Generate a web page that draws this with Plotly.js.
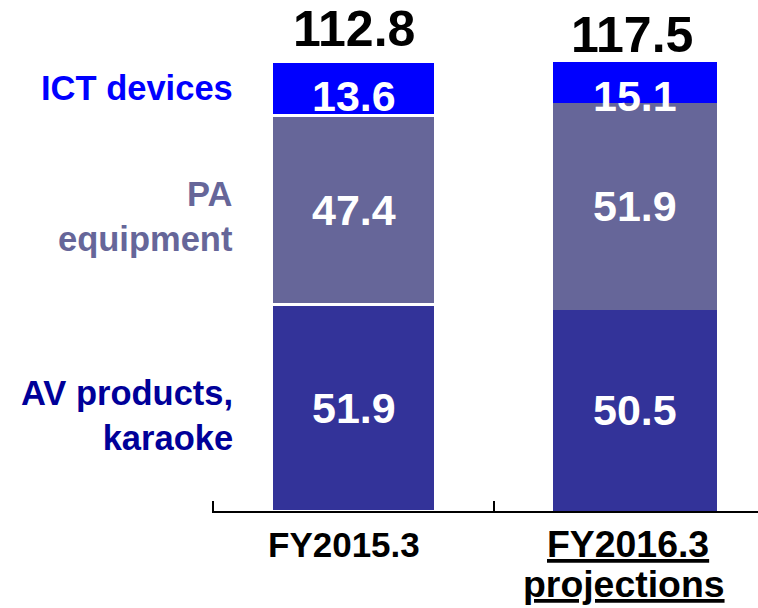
<!DOCTYPE html>
<html>
<head>
<meta charset="utf-8">
<script src="https://cdn.plot.ly/plotly-3.0.1.min.js"></script>
<style>html,body{margin:0;padding:0;background:#fff;}#chart{width:758px;height:608px;}</style>
</head>
<body>
<div id="chart"></div>
<script>
// ---- data ----
const categories = ['FY2015.3', 'FY2016.3<br>projections'];
const seriesNames = ['AV products,<br>karaoke', 'PA<br>equipment', 'ICT devices'];
const avValues = [51.9, 50.5];
const paValues = [47.4, 51.9];
const ictValues = [13.6, 15.1];
const totals = [112.8, 117.5];

// ---- styles ----
const FONT = 'Liberation Sans, Arial, sans-serif';
const colors = ['#333399', '#666699', '#0000FF'];
const labelColors = ['#000099', '#666699', '#0000FF'];
const xPos = [0, 1];
const lineColors = ['#ffffff', 'rgba(0,0,0,0)'];
const lineWidths = [3, 0];

const seriesValues = [avValues, paValues, ictValues];
const traces = seriesValues.map((vals, i) => ({
  type: 'bar',
  x: xPos,
  y: vals,
  name: seriesNames[i],
  width: 0.585,
  marker: {color: colors[i], line: {color: lineColors, width: lineWidths}},
  hoverinfo: 'skip',
  textposition: 'none'
}));

const annotations = [];
const segFont = {family: FONT, size: 43, color: '#fff', weight: 'bold'};
// segment value labels
xPos.forEach((x, j) => {
  annotations.push({x: x, y: avValues[j] / 2, xref: 'x', yref: 'y', yanchor: 'middle', xanchor: 'center',
    text: avValues[j].toFixed(1), showarrow: false, font: segFont});
  annotations.push({x: x, y: avValues[j] + paValues[j] / 2, xref: 'x', yref: 'y', yanchor: 'middle', xanchor: 'center',
    text: paValues[j].toFixed(1), showarrow: false, font: segFont});
  annotations.push({x: x, y: 0.924, xref: 'x', yref: 'paper', yanchor: 'middle', xanchor: 'center',
    text: ictValues[j].toFixed(1), showarrow: false, font: segFont});
});
// totals
const totalY = [1.0734, 1.060];
const totalX = [0, 0.989];
totals.forEach((t, j) => {
  annotations.push({x: totalX[j], y: totalY[j], xref: 'x', yref: 'paper', yanchor: 'middle', xanchor: 'center',
    text: t.toFixed(1), showarrow: false, font: {family: FONT, size: 50, color: '#000', weight: 'bold'}});
});
// series labels on the left
const seriesLabelY = [0.2125, 0.657, 0.942];
seriesNames.forEach((n, i) => {
  annotations.push({x: 0.0425, y: seriesLabelY[i], xref: 'paper', yref: 'paper', xanchor: 'right', yanchor: 'middle',
    align: 'right', text: n, showarrow: false,
    font: {family: FONT, size: 34.5, color: labelColors[i], weight: 'bold'}});
});
// category labels
annotations.push({x: 0.2418, y: -0.0745, xref: 'paper', yref: 'paper', xanchor: 'center', yanchor: 'middle',
  text: categories[0], showarrow: false, font: {family: FONT, size: 35, color: '#000', weight: 'bold'}});
const cat2Lines = categories[1].split('<br>');
const cat2X = [0.7610, 0.7546];
const cat2Y = [-0.0745, -0.1635];
cat2Lines.forEach((s, k) => {
  annotations.push({x: cat2X[k], y: cat2Y[k], xref: 'paper', yref: 'paper', xanchor: 'center', yanchor: 'middle',
    text: '<u>' + s + '</u>', showarrow: false, font: {family: FONT, size: 37.4, color: '#000', weight: 'bold'}});
});

const layout = {
  width: 758, height: 608,
  margin: {l: 212, r: 0, t: 62, b: 96.5, pad: 0},
  barmode: 'stack',
  showlegend: false,
  paper_bgcolor: '#fff', plot_bgcolor: '#fff',
  xaxis: {
    range: [-0.503, 1.437],
    showgrid: false, zeroline: false,
    showline: true, linecolor: '#000', linewidth: 2,
    tickmode: 'array', tickvals: [-0.499, 0.5], ticks: 'inside', ticklen: 10, tickwidth: 2, tickcolor: '#000',
    showticklabels: false, fixedrange: true
  },
  yaxis: {
    range: [0, 112.7],
    visible: false, showgrid: false, zeroline: false, fixedrange: true
  },
  annotations: annotations
};

Plotly.newPlot('chart', traces, layout, {displayModeBar: false, staticPlot: true});
</script>
</body>
</html>
